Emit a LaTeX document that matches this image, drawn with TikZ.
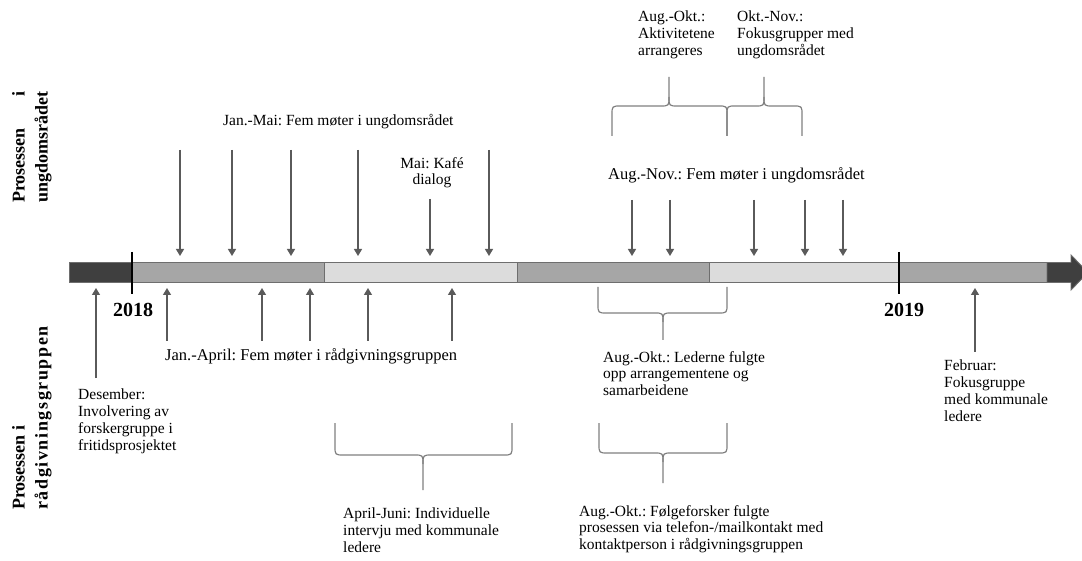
\documentclass[tikz,border=0pt]{standalone}
\usepackage{fontspec}
\setmainfont{Liberation Serif}
\usetikzlibrary{arrows.meta}
\frenchspacing
\definecolor{arrowgray}{HTML}{5A5A5A}
\definecolor{bracegray}{HTML}{7F7F7F}
\definecolor{edgegray}{HTML}{6E6E6E}
\definecolor{darkseg}{HTML}{3F3F3F}
\definecolor{midseg}{HTML}{A6A6A6}
\definecolor{lightseg}{HTML}{DCDCDC}
\newcommand\mybrace[7]{%
  \draw[brace] (#1,#4) -- (#1,#5+#7) .. controls (#1,#5) .. (#1+9,#5) -- (#2-9,#5) .. controls (#2,#5) .. (#2,#5-#7) -- (#2,#6);
  \draw[brace] (#2,#5-#7) .. controls (#2,#5) .. (#2+9,#5) -- (#3-9,#5) .. controls (#3,#5) .. (#3,#5+#7) -- (#3,#4);}
\begin{document}
\begin{tikzpicture}[x=1pt,y=-1pt,
  txt/.style={font=\fontsize{15.5}{16.7}\selectfont, inner sep=0pt, align=left, anchor=north west},
  bigtxt/.style={txt, font=\fontsize{16.5}{18}\selectfont},
  ctxt/.style={font=\fontsize{15.5}{16.7}\selectfont, inner sep=0pt, align=center, anchor=north},
  side/.style={font=\fontsize{18}{23}\selectfont\bfseries, inner sep=0pt, align=left, rotate=90, anchor=north west},
  yr/.style={font=\fontsize{20}{24}\selectfont\bfseries, inner sep=0pt, anchor=base},
  arr/.style={draw=arrowgray, line width=1.2pt, -{Triangle[width=8pt,length=7pt]}},
  brace/.style={draw=bracegray, line width=1.2pt},
  seg/.style={draw=edgegray, line width=0.9pt},
  yearline/.style={draw=black, line width=2pt}]
\clip (0,0) rectangle (1082,561);
\useasboundingbox (0,0) rectangle (1082,561);
% bar
\filldraw[seg, fill=darkseg] (69,262.5) rectangle (132,282.5);
\filldraw[seg, fill=midseg] (132,262.5) rectangle (324,282.5);
\filldraw[seg, fill=lightseg] (324,262.5) rectangle (517,282.5);
\filldraw[seg, fill=midseg] (517,262.5) rectangle (709,282.5);
\filldraw[seg, fill=lightseg] (709,262.5) rectangle (899,282.5);
\filldraw[seg, fill=midseg] (899,262.5) rectangle (1047,282.5);
\filldraw[seg, fill=darkseg] (1047,262.5) -- (1071,262.5) -- (1071,255) -- (1088,272.5) -- (1071,290) -- (1071,282.5) -- (1047,282.5) -- cycle;
% year lines
\coordinate (y18t) at (132,252); \coordinate (y18b) at (132,294);
\coordinate (y19t) at (899,252); \coordinate (y19b) at (899,294);
\draw[yearline] (y18t) -- (y18b);
\draw[yearline] (y19t) -- (y19b);
\node[yr] (n2018) at (133,317) {2018};
\node[yr] (n2019) at (904,317) {2019};
% side labels
\node[side] (sideU) at (12,203) {\setbox0\hbox{ungdomsrådet}\hbox to \wd0{Prosessen\hfill i}\\ungdomsrådet};
\node[side] (sideR) at (12,510) {Prosessen i\\{\addfontfeature{LetterSpace=9}rådgivningsgruppen}};
% top texts
\node[txt] (aktiv) at (638,11) {Aug.-Okt.:\\Aktivitetene\\arrangeres};
\node[txt] (fokus) at (737,11) {Okt.-Nov.:\\Fokusgrupper med\\ungdomsrådet};
\node[txt] (janmai) at (223,114) {Jan.-Mai: Fem møter i ungdomsrådet};
\node[ctxt] (kafe) at (432,157) {Mai: Kafé\\dialog};
\node[bigtxt] (augnov) at (608,167) {Aug.-Nov.: Fem møter i ungdomsrådet};
% bottom texts
\node[txt] (desember) at (78,389) {Desember:\\Involvering av\\forskergruppe i\\fritidsprosjektet};
\node[bigtxt] (janapr) at (165,348) {Jan.-April: Fem møter i rådgivningsgruppen};
\node[txt] (ledere) at (603,351) {Aug.-Okt.: Lederne fulgte\\opp arrangementene og\\samarbeidene};
\node[txt] (folge) at (579,505) {Aug.-Okt.: Følgeforsker fulgte\\prosessen via telefon-/mailkontakt med\\kontaktperson i rådgivningsgruppen};
\node[txt] (aprjun) at (343,508) {April-Juni: Individuelle\\intervju med kommunale\\ledere};
\node[txt] (februar) at (944,360) {Februar:\\Fokusgruppe\\med kommunale\\ledere};
% down arrows
\foreach \x/\n/\s in {180/d1/150, 232/d2/150, 291/d3/150, 358/d4/150, 430/d5/199, 489/d6/150, 632/d7/200, 670/d8/200, 754/d9/200, 805/d10/200, 843/d11/200}{
  \coordinate (\n s) at (\x,\s); \coordinate (\n e) at (\x,256);
  \draw[arr] (\n s) -- (\n e);}
% up arrows
\foreach \x/\n/\s in {96/u1/378, 167/u2/341, 262/u3/341, 310/u4/341, 368/u5/341, 452/u6/341, 975/u7/352}{
  \coordinate (\n s) at (\x,\s); \coordinate (\n e) at (\x,288);
  \draw[arr] (\n s) -- (\n e);}
% braces
\mybrace{612}{669}{727}{136}{106}{77}{9}
\mybrace{727}{764}{802}{136}{106}{77}{9}
\mybrace{598}{663}{727}{287}{313}{340}{-9}
\mybrace{599}{663}{727}{423}{453}{483}{-9}
\mybrace{335}{423}{512}{423}{455}{490}{-9}
\end{tikzpicture}
\end{document}
